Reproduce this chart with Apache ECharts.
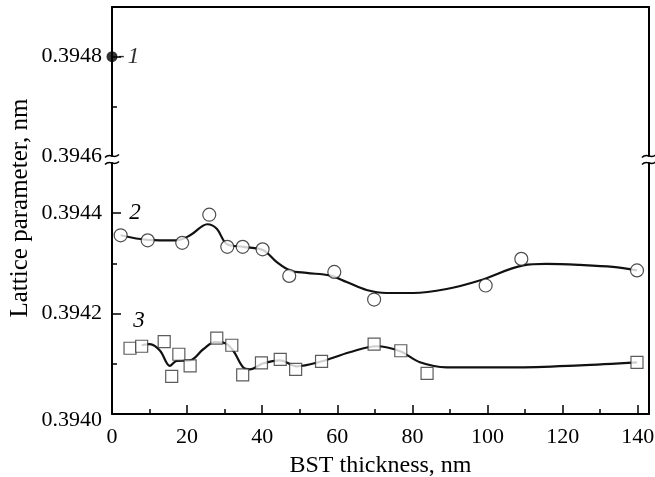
<!DOCTYPE html>
<html>
<head>
<meta charset="utf-8">
<script src="https://cdn.jsdelivr.net/npm/echarts@6/dist/echarts.min.js"></script>
<style>html,body{margin:0;padding:0;background:#fff}#c{width:655px;height:477px}</style>
</head>
<body>
<div id="c"></div>
<script>
// ---- data ----
var xTickLabels = [0, 20, 40, 60, 80, 100, 120, 140];
var xMinorTicks = [10, 30, 50, 70, 90, 110, 130];
var yLowLabels = [0.3940, 0.3942, 0.3944];
var yLowMinor = [0.3941, 0.3943];
var yUpLabels = [0.3946, 0.3948];
var yUpMajor = [0.3948];
var yUpMinor = [0.3947];

// series 1 (single point)
var s1X = [0];
var s1Y = [0.3948];

// series 2 (circles)
var s2X = [2.3, 9.5, 18.7, 25.9, 30.7, 34.8, 40.1, 47.2, 59.2, 69.8, 99.5, 109.0, 139.8];
var s2Y = [0.394356, 0.394346, 0.394341, 0.394397, 0.394333, 0.394333, 0.394328, 0.394275, 0.394283, 0.394228, 0.394256, 0.394309, 0.394286];
// fitted curve 2
var c2X = [2.3, 9.5, 17.2, 20.8, 25.4, 27.9, 30.5, 35.0, 40.3, 43.8, 47.4, 51.8, 58.0, 62.5, 67.8, 73.1, 80.2, 89.1, 97.9, 109.5, 115.7, 124.6, 133.4, 139.8];
var c2Y = [0.394356, 0.394347, 0.394346, 0.394356, 0.394378, 0.394369, 0.394339, 0.394333, 0.394326, 0.394303, 0.394286, 0.394281, 0.394276, 0.394263, 0.394247, 0.394241, 0.394241, 0.394249, 0.394266, 0.394296, 0.394299, 0.394297, 0.394293, 0.394286];

// series 3 (squares)
var s3X = [4.8, 7.9, 13.9, 15.9, 17.8, 20.8, 27.9, 31.9, 34.8, 39.8, 44.8, 48.9, 55.8, 69.8, 76.9, 83.9, 139.8];
var s3Y = [0.394131, 0.394135, 0.394144, 0.394075, 0.394119, 0.394096, 0.394151, 0.394137, 0.394078, 0.394102, 0.394109, 0.394089, 0.394105, 0.394139, 0.394126, 0.394081, 0.394103];
// fitted curve 3
var c3X = [7.9, 10.1, 12.8, 15.4, 17.2, 20.8, 24.3, 27.4, 30.1, 32.3, 34.9, 36.7, 40.3, 44.7, 49.2, 55.4, 63.3, 70.5, 76.7, 82.0, 89.1, 106.8, 124.6, 139.8];
var c3Y = [0.394137, 0.394139, 0.394126, 0.394096, 0.394106, 0.394107, 0.394129, 0.394143, 0.394141, 0.394126, 0.394093, 0.394089, 0.394101, 0.394107, 0.394095, 0.394104, 0.394123, 0.394135, 0.394125, 0.394103, 0.394093, 0.394093, 0.394097, 0.394103];

function zip(a, b) { return a.map(function (v, i) { return [v, b[i]]; }); }

// ---- layout ----
var FONT = 'Liberation Serif';
var L = 112, R = 6, W = 655 - L - R;
var upTop = 7, upH = 149;
var lowTop = 163, lowBottom = 63;
var xMin = 0, xMax = 143;

var chart = echarts.init(document.getElementById('c'), null, { renderer: 'canvas' });

var lineOnly = { show: true, lineStyle: { color: '#000', width: 2 } };
function yFmt(v) { return v.toFixed(4); }
function yFmtLow(v) { return v < 0.39405 ? '{low|' + v.toFixed(4) + '}' : v.toFixed(4); }

var option = {
  backgroundColor: '#fff',
  animation: false,
  grid: [
    { left: L, width: W, top: lowTop, bottom: lowBottom, containLabel: false, outerBoundsMode: 'none' },
    { left: L, width: W, top: upTop, height: upH, containLabel: false, outerBoundsMode: 'none' }
  ],
  xAxis: [
    { gridIndex: 0, type: 'value', min: xMin, max: xMax, position: 'bottom',
      axisLine: lineOnly, splitLine: { show: false },
      axisTick: { show: true, inside: true, length: 9, customValues: xTickLabels, lineStyle: { color: '#000', width: 1.5 } },
      axisLabel: { customValues: xTickLabels, color: '#000', fontFamily: FONT, fontSize: 22, margin: 12 },
      name: 'BST thickness, nm', nameLocation: 'middle', nameGap: 40,
      nameTextStyle: { color: '#000', fontFamily: FONT, fontSize: 24 } },
    { gridIndex: 0, type: 'value', min: xMin, max: xMax, position: 'bottom',
      axisLine: { show: false }, splitLine: { show: false },
      axisTick: { show: true, inside: true, length: 5, customValues: xMinorTicks, lineStyle: { color: '#000', width: 1.5 } },
      axisLabel: { show: false } },
    { gridIndex: 1, type: 'value', min: xMin, max: xMax, position: 'top',
      axisLine: lineOnly, splitLine: { show: false }, axisTick: { show: false }, axisLabel: { show: false } }
  ],
  yAxis: [
    { gridIndex: 0, type: 'value', min: 0.3940, max: 0.3945, position: 'left',
      axisLine: lineOnly, splitLine: { show: false },
      axisTick: { show: true, inside: true, length: 9, customValues: yLowLabels, lineStyle: { color: '#000', width: 1.5 } },
      axisLabel: { customValues: yLowLabels, formatter: yFmtLow, color: '#000', fontFamily: FONT, fontSize: 22, margin: 10,
        rich: { low: { fontFamily: FONT, fontSize: 22, color: '#000', padding: [12, 0, 0, 0] } } } },
    { gridIndex: 0, type: 'value', min: 0.3940, max: 0.3945, position: 'left',
      axisLine: { show: false }, splitLine: { show: false },
      axisTick: { show: true, inside: true, length: 5, customValues: yLowMinor, lineStyle: { color: '#000', width: 1.5 } },
      axisLabel: { show: false } },
    { gridIndex: 0, type: 'value', min: 0.3940, max: 0.3945, position: 'right',
      axisLine: lineOnly, splitLine: { show: false }, axisTick: { show: false }, axisLabel: { show: false } },
    { gridIndex: 1, type: 'value', min: 0.3946, max: 0.3949, position: 'left',
      axisLine: lineOnly, splitLine: { show: false },
      axisTick: { show: true, inside: true, length: 9, customValues: yUpMajor, lineStyle: { color: '#000', width: 1.5 } },
      axisLabel: { customValues: yUpLabels, formatter: yFmt, color: '#000', fontFamily: FONT, fontSize: 22, margin: 10 } },
    { gridIndex: 1, type: 'value', min: 0.3946, max: 0.3949, position: 'left',
      axisLine: { show: false }, splitLine: { show: false },
      axisTick: { show: true, inside: true, length: 5, customValues: yUpMinor, lineStyle: { color: '#000', width: 1.5 } },
      axisLabel: { show: false } },
    { gridIndex: 1, type: 'value', min: 0.3946, max: 0.3949, position: 'right',
      axisLine: lineOnly, splitLine: { show: false }, axisTick: { show: false }, axisLabel: { show: false } }
  ],
  series: [
    { type: 'line', xAxisIndex: 0, yAxisIndex: 0, data: zip(c2X, c2Y), smooth: 0.35,
      showSymbol: false, lineStyle: { color: '#111', width: 2.2 }, z: 2 },
    { type: 'line', xAxisIndex: 0, yAxisIndex: 0, data: zip(c3X, c3Y), smooth: 0.35,
      showSymbol: false, lineStyle: { color: '#111', width: 2.2 }, z: 2 },
    { type: 'scatter', xAxisIndex: 0, yAxisIndex: 0, data: zip(s2X, s2Y), symbol: 'circle', symbolSize: 13,
      itemStyle: { color: '#fff', borderColor: '#222', borderWidth: 1.2 }, z: 3, clip: false },
    { type: 'scatter', xAxisIndex: 0, yAxisIndex: 0, data: zip(s3X, s3Y), symbol: 'rect', symbolSize: 12,
      itemStyle: { color: '#fff', borderColor: '#333', borderWidth: 1.2 }, z: 3, clip: false },
    { type: 'scatter', xAxisIndex: 2, yAxisIndex: 3, data: zip(s1X, s1Y), symbol: 'circle', symbolSize: 11,
      itemStyle: { color: '#000' }, z: 4, clip: false,
      label: { show: true, position: 'right', distance: 1, formatter: '-{i|1}', color: '#000', fontFamily: FONT, fontSize: 18,
        rich: { i: { fontStyle: 'italic', fontFamily: FONT, fontSize: 24, color: '#000', padding: [0, 0, 0, 3] } } } }
  ],
  graphic: []
};

chart.setOption(option);

// decorative break marks and annotations
var gfx = [];
var yBreakUp = upTop + upH, yBreakLow = lowTop;
[L, L + W].forEach(function (x) {
  [yBreakUp, yBreakLow].forEach(function (y) {
    gfx.push({ type: 'bezierCurve', z: 10,
      shape: { x1: x - 7, y1: y + 1.5, cpx1: x - 2, cpy1: y - 4, cpx2: x + 2, cpy2: y + 4, x2: x + 7, y2: y - 1.5 },
      style: { stroke: '#000', lineWidth: 1.5, fill: null } });
  });
});
gfx.push({ type: 'text', x: 20, y: 208, rotation: Math.PI / 2, z: 10,
  style: { text: 'Lattice parameter, nm', fill: '#000', font: '25px "Liberation Serif"', textAlign: 'center', textVerticalAlign: 'middle' } });
gfx.push({ type: 'text', x: 135, y: 213, z: 10,
  style: { text: '2', fill: '#000', font: 'italic 23px "Liberation Serif"', textAlign: 'center', textVerticalAlign: 'middle' } });
gfx.push({ type: 'text', x: 139, y: 321, z: 10,
  style: { text: '3', fill: '#000', font: 'italic 23px "Liberation Serif"', textAlign: 'center', textVerticalAlign: 'middle' } });
chart.setOption({ graphic: gfx });
</script>
</body>
</html>
